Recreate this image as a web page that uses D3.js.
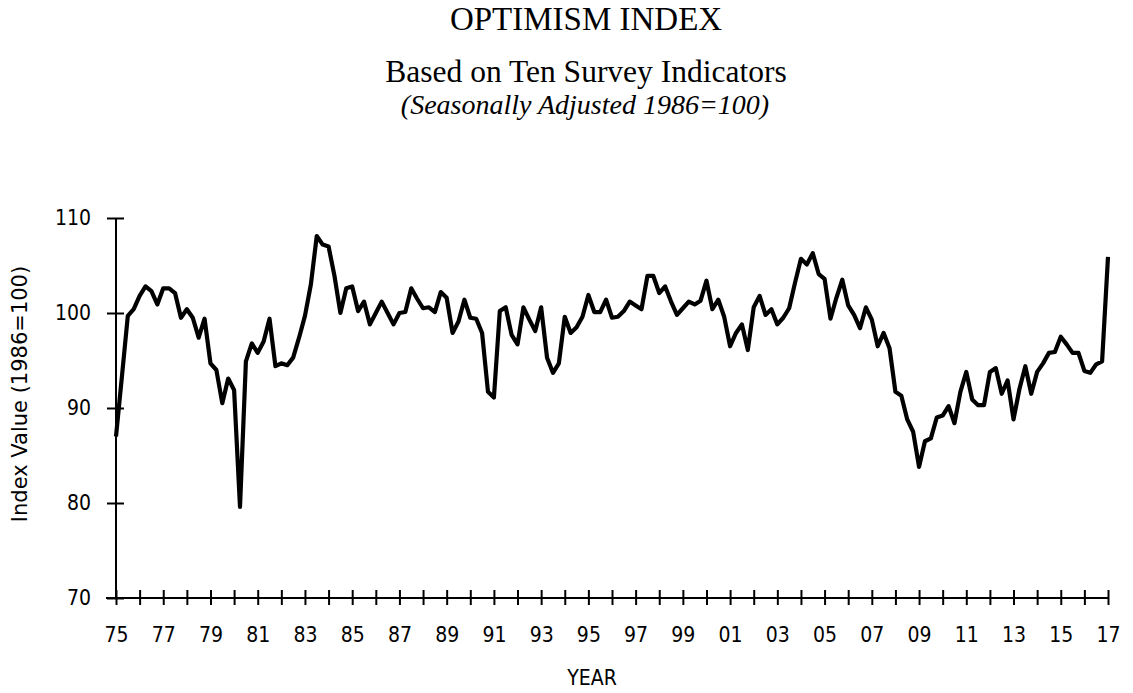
<!DOCTYPE html>
<html>
<head>
<meta charset="utf-8">
<script src="https://cdn.jsdelivr.net/npm/d3@7"></script>
<style>
  body { margin: 0; background: #fff; }
  svg { display: block; }
  .title { font-family: "Liberation Serif", "Times New Roman", serif; fill: #000; }
  .tick text, .axis-label {
    font-family: "DejaVu Sans", Tahoma, sans-serif;
    font-stretch: condensed;
    fill: #000;
  }
</style>
</head>
<body>
<svg id="chart" width="1133" height="693"></svg>
<script>
/* optimism index — quarterly line, 1975 to 2017 */

// quarterly values, first point = 1975 Q1, one point per quarter
const startYear = 1975;
const values = [
  87.0, 93.3, 99.7, 100.4, 101.8, 102.8, 102.3, 100.9, 102.6, 102.6, 102.1, 99.5,
  100.4, 99.5, 97.4, 99.4, 94.7, 94.0, 90.5, 93.1, 91.9, 79.6, 94.9, 96.8,
  95.8, 97.0, 99.4, 94.4, 94.7, 94.5, 95.3, 97.4, 99.7, 103.0, 108.1, 107.2,
  107.0, 103.9, 100.0, 102.6, 102.8, 100.2, 101.2, 98.8, 100.0, 101.2, 100.0, 98.8,
  100.0, 100.1, 102.6, 101.5, 100.5, 100.6, 100.1, 102.2, 101.6, 97.9, 99.1, 101.4,
  99.5, 99.4, 97.9, 91.7, 91.1, 100.2, 100.6, 97.7, 96.7, 100.6, 99.3, 98.1,
  100.6, 95.3, 93.7, 94.7, 99.6, 97.9, 98.5, 99.6, 101.9, 100.1, 100.1, 101.4,
  99.5, 99.6, 100.2, 101.2, 100.8, 100.4, 103.9, 103.9, 102.1, 102.8, 101.2, 99.8,
  100.5, 101.2, 100.9, 101.3, 103.4, 100.4, 101.4, 99.6, 96.5, 97.9, 98.8, 96.1,
  100.6, 101.8, 99.8, 100.4, 98.8, 99.5, 100.5, 103.2, 105.7, 105.1, 106.3, 104.1,
  103.6, 99.4, 101.6, 103.5, 100.8, 99.8, 98.4, 100.6, 99.3, 96.5, 97.9, 96.3,
  91.7, 91.3, 88.8, 87.5, 83.8, 86.5, 86.8, 89.0, 89.2, 90.2, 88.4, 91.7,
  93.8, 90.9, 90.3, 90.3, 93.8, 94.2, 91.5, 92.9, 88.8, 92.0, 94.4, 91.5,
  93.8, 94.7, 95.8, 95.9, 97.5, 96.7, 95.8, 95.8, 93.9, 93.7, 94.6, 94.9,
  105.9
];

const yTicks = [70, 80, 90, 100, 110];
const xTickYears = d3.range(1975, 2018);           // a tick every year
const xLabelYears = d3.range(1975, 2018, 2);       // labelled every other year

const svg = d3.select('#chart');

// ─── titles ───
svg.append('text').attr('class', 'title')
  .attr('x', 586).attr('y', 30).attr('text-anchor', 'middle')
  .style('font-size', '33px')
  .text('OPTIMISM INDEX');
svg.append('text').attr('class', 'title')
  .attr('x', 586).attr('y', 82).attr('text-anchor', 'middle')
  .style('font-size', '31.5px')
  .text('Based on Ten Survey Indicators');
svg.append('text').attr('class', 'title')
  .attr('x', 585).attr('y', 114).attr('text-anchor', 'middle')
  .style('font-size', '28px').style('font-style', 'italic')
  .text('(Seasonally Adjusted 1986=100)');

// ─── scales ───
const x = d3.scaleLinear().domain([1975, 2017]).range([116, 1108]);
const y = d3.scaleLinear().domain([70, 110]).range([598, 218]);

const data = values.map((v, i) => ({ t: startYear + i / 4, v }));

// ─── axes ───
const yAxis = svg.append('g')
  .attr('transform', `translate(${x(1975)},0)`)
  .call(d3.axisLeft(y).tickValues(yTicks).tickSize(9).tickPadding(16).tickFormat(d3.format('d')));
yAxis.select('.domain').remove();
yAxis.append('line')
  .attr('x1', 0).attr('x2', 0).attr('y1', y(110)).attr('y2', y(70))
  .attr('stroke', '#000').attr('stroke-width', 2);
yAxis.selectAll('.tick line').attr('x1', 8).attr('stroke-width', 2);

const xAxis = svg.append('g')
  .attr('transform', `translate(0,${y(70)})`)
  .call(d3.axisBottom(x).tickValues(xTickYears).tickSize(7).tickPadding(22)
    .tickFormat(d => xLabelYears.includes(d) ? d3.format('02d')(d % 100) : ''));
xAxis.select('.domain').remove();
xAxis.append('line')
  .attr('x1', x(1975) - 10).attr('x2', x(2017)).attr('y1', 0).attr('y2', 0)
  .attr('stroke', '#000').attr('stroke-width', 2);
xAxis.selectAll('.tick line').attr('y1', -8).attr('stroke-width', 2);

svg.selectAll('.tick text').style('font-size', '21px');

// ─── axis titles ───
svg.append('text').attr('class', 'axis-label')
  .attr('transform', 'translate(27,394) rotate(-90)')
  .attr('text-anchor', 'middle')
  .style('font-size', '21px').style('font-stretch', 'normal')
  .text('Index Value (1986=100)');
svg.append('text').attr('class', 'axis-label')
  .attr('x', 592).attr('y', 685).attr('text-anchor', 'middle')
  .style('font-size', '21px')
  .text('YEAR');

// ─── series ───
svg.append('path')
  .datum(data)
  .attr('fill', 'none')
  .attr('stroke', '#000')
  .attr('stroke-width', 4.2)
  .attr('stroke-linejoin', 'round')
  .attr('d', d3.line().x(d => x(d.t)).y(d => y(d.v)));
</script>
</body>
</html>
